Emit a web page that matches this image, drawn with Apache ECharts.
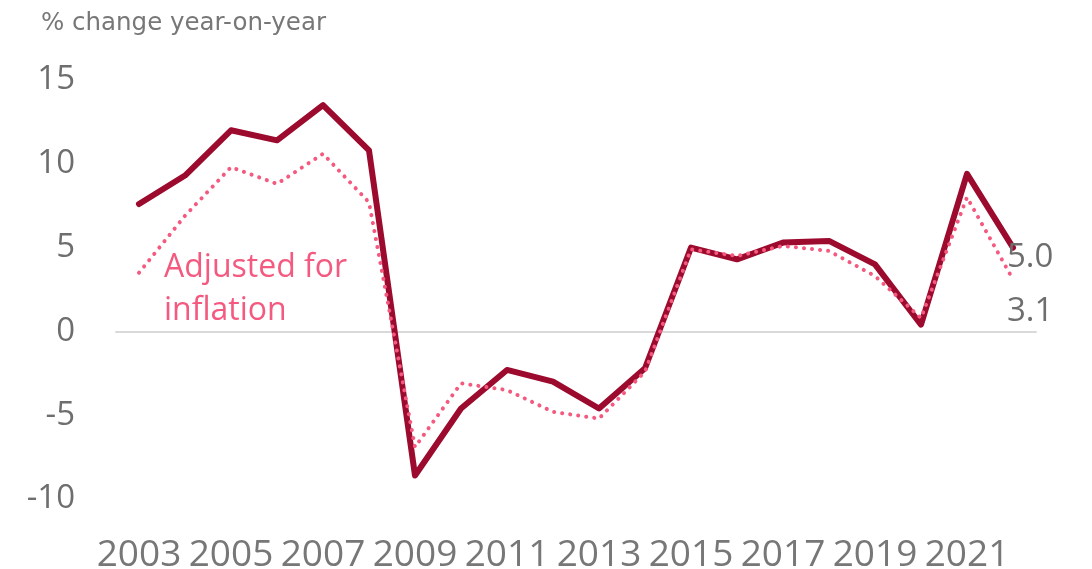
<!DOCTYPE html>
<html><head><meta charset="utf-8">
<script src="https://cdn.jsdelivr.net/npm/echarts@6/dist/echarts.min.js"></script>
<style>html,body{margin:0;padding:0;background:#fff}#c{width:1092px;height:569px}</style>
</head><body><div id="c"></div>
<script>
const years = ['2003','2004','2005','2006','2007','2008','2009','2010','2011','2012','2013','2014','2015','2016','2017','2018','2019','2020','2021','2022'];
const nominal = [7.6, 9.3, 12.0, 11.4, 13.5, 10.8, -8.6, -4.6, -2.3, -3.0, -4.6, -2.2, 5.0, 4.3, 5.3, 5.4, 4.0, 0.4, 9.4, 5.0];
const real = [3.5, 6.9, 9.8, 8.8, 10.6, 7.7, -6.9, -3.1, -3.5, -4.8, -5.2, -2.4, 4.9, 4.5, 5.1, 4.8, 3.3, 0.8, 8.0, 3.1];
const yTicks = [-10, -5, 0, 5, 10, 15];
const unitLabel = '% change year-on-year';
const realLabel = 'Adjusted for\ninflation';

const chart = echarts.init(document.getElementById('c'));
const endLab = (off) => ({
  show: true,
  formatter: p => Number(p.value).toFixed(1),
  distance: -6,
  color: '#6e6e6e', fontSize: 33, fontFamily: 'Open Sans, sans-serif',
  offset: off
});
chart.setOption({
  animation: false,
  grid: {left: 116, right: 56, top: 80, bottom: 70, outerBoundsMode: 'none', containLabel: false},
  title: {text: unitLabel, left: 36, top: 6,
    textStyle: {color: '#777', fontSize: 24.5, fontWeight: 'normal', fontFamily: 'DejaVu Sans, sans-serif'}},
  xAxis: {type: 'category', data: years, boundaryGap: true,
    axisLine: {show: true, onZero: true, lineStyle: {color: '#d9d9d9', width: 2}},
    axisTick: {show: false},
    axisLabel: {interval: 1, color: '#777', fontSize: 37, margin: 38,
      fontFamily: 'Liberation Sans Narrow, Open Sans, sans-serif'}},
  yAxis: {type: 'value', min: yTicks[0], max: yTicks[yTicks.length-1], interval: 5,
    splitLine: {show: false}, axisLine: {show: false}, axisTick: {show: false},
    axisLabel: {color: '#6e6e6e', fontSize: 33, margin: 41, align: 'right',
      fontFamily: 'Open Sans, sans-serif',
      formatter: v => String(v)}},
  graphic: [{type: 'text', left: 164, top: 246,
    style: {text: realLabel, fill: '#f45a7f', fontSize: 32, lineHeight: 43,
      fontFamily: 'Open Sans, sans-serif'}}],
  series: [
    {type: 'line', data: real, symbol: 'none', z: 3,
      lineStyle: {color: '#f45a7f', width: 4, type: [0.1, 8], cap: 'round'},
      endLabel: endLab([0, 32])},
    {type: 'line', data: nominal, symbol: 'none', z: 2,
      lineStyle: {color: '#9c0a2e', width: 6, cap: 'round', join: 'round'},
      endLabel: endLab([0, 10])}
  ]
});
</script></body></html>
